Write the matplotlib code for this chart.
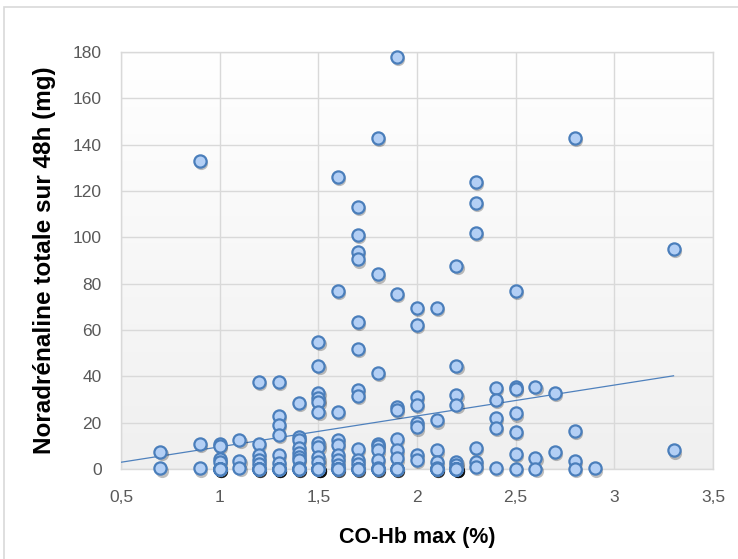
import numpy as np
import matplotlib
matplotlib.use("Agg")
import matplotlib.pyplot as plt
from matplotlib import transforms
from matplotlib.patches import Rectangle

# ---- data ----
co_hb = ([0.7]*2 + [0.9]*3 + [1.0]*11 + [1.1]*3 + [1.2]*10 + [1.3]*14 + [1.4]*13 +
         [1.5]*19 + [1.6]*12 + [1.7]*15 + [1.8]*12 + [1.9]*12 + [2.0]*8 + [2.1]*10 +
         [2.2]*15 + [2.3]*6 + [2.4]*5 + [2.5]*7 + [2.6]*3 + [2.7]*2 + [2.8]*4 +
         [2.9]*1 + [3.3]*2)
noradrenaline = (
    [7.3, 0.3] +
    [133, 11, 0.3] +
    [11, 10, 4.3, 3, 0, 0, 0, 0, 0, 0, 0] +
    [12.5, 3.5, 0.5] +
    [37.5, 10.8, 6, 4, 2, 0, 0, 0, 0, 0] +
    [37.5, 23, 19, 14.7, 6, 2.6, 0, 0, 0, 0, 0, 0, 0, 0] +
    [28.5, 14, 12.5, 9, 7, 5, 4, 0.5, 0, 0, 0, 0, 0] +
    [55, 44.5, 33, 30.5, 29, 24.7, 11.3, 9.5, 5, 3, 0, 0, 0, 0, 0, 0, 0, 0, 0] +
    [126, 77, 24.6, 12.5, 10.4, 6, 4, 1.7, 0, 0, 0, 0] +
    [113, 101, 93.6, 90.5, 63.5, 52, 34, 31.5, 8.6, 4, 2, 0, 0, 0, 0] +
    [143, 84, 41.4, 11, 10, 8, 4, 0.5, 0, 0, 0, 0] +
    [178, 75.5, 26.8, 25.5, 13, 8, 4.6, 0, 0, 0, 0, 0] +
    [69.5, 62.3, 31, 27.6, 20, 18, 6, 4] +
    [69.5, 21, 8, 3, 0.5, 0, 0, 0, 0, 0] +
    [87.6, 44.4, 32, 27.6, 3, 1.7, 0, 0, 0, 0, 0, 0, 0, 0, 0] +
    [124, 115, 102, 9, 3, 1] +
    [35, 30, 22, 17.6, 0.5] +
    [76.8, 35.4, 34.5, 24, 16, 6.5, 0] +
    [35.4, 4.7, 0] +
    [33, 7.3] +
    [143, 16.4, 3.5, 0] +
    [0.3] +
    [95, 8])
x_ticks = [0.5, 1, 1.5, 2, 2.5, 3, 3.5]
x_tick_labels = ["0,5", "1", "1,5", "2", "2,5", "3", "3,5"]
y_ticks = [0, 20, 40, 60, 80, 100, 120, 140, 160, 180]
x_label = "CO-Hb max (%)"
y_label = "Noradrénaline totale sur 48h (mg)"

x = np.array(co_hb, dtype=float)
y = np.array(noradrenaline, dtype=float)

plt.rcParams['font.family'] = ['Liberation Sans', 'DejaVu Sans']

fig = plt.figure(figsize=(7.38, 5.59), dpi=100)
fig.patch.set_facecolor('white')
fig.patches.append(Rectangle((4/738, -0.05), 1.2, 1 - 7/559 + 0.05,
                             transform=fig.transFigure, fill=False,
                             edgecolor='#d9d9d9', linewidth=1.2))

ax = fig.add_axes([121/738, 1 - 469/559, (713-121)/738, (469-52)/559])
ax.set_xlim(0.5, 3.5)
ax.set_ylim(0, 180)

# gradient plot area background
grad = np.linspace(1.0, 0.94, 256).reshape(-1, 1)
ax.imshow(np.dstack([grad, grad, grad]), extent=[0.5, 3.5, 0, 180],
          aspect='auto', origin='upper', zorder=0)

ax.set_axisbelow(True)
ax.grid(True, color='#d9d9d9', linewidth=1.0)
for s in ax.spines.values():
    s.set_color('#d9d9d9')
    s.set_linewidth(1.0)

ax.set_xticks(x_ticks)
ax.set_xticklabels(x_tick_labels)
ax.set_yticks(y_ticks)
ax.tick_params(length=0, labelsize=12.5, colors='#595959')
ax.tick_params(axis='y', pad=14)
ax.tick_params(axis='x', pad=15)

ax.set_xlabel(x_label, fontsize=15.5, fontweight='bold', labelpad=16)
ax.set_ylabel(y_label, fontsize=17.5, fontweight='bold', labelpad=12)

# trend line (least squares from data)
slope, intercept = np.polyfit(x, y, 1)
xt = np.array([0.5, 3.3])
ax.plot(xt, slope * xt + intercept, color='#4f81bd', linewidth=0.9, zorder=3)

# shadows
shadow_tr = transforms.offset_copy(ax.transData, fig=fig, x=1.2, y=-2.2, units='dots')
ax.plot(x, y, linestyle='none', marker='o', markersize=9.5,
        markerfacecolor='#000000', markeredgecolor='none', alpha=0.25,
        transform=shadow_tr, clip_on=False, zorder=4)
ax.plot(x, y, linestyle='none', marker='o', markersize=8.8,
        markerfacecolor='#b3cff5', markeredgecolor='#4a7ebb',
        markeredgewidth=1.6, clip_on=False, zorder=5)

fig.savefig('out.png', dpi=100)
